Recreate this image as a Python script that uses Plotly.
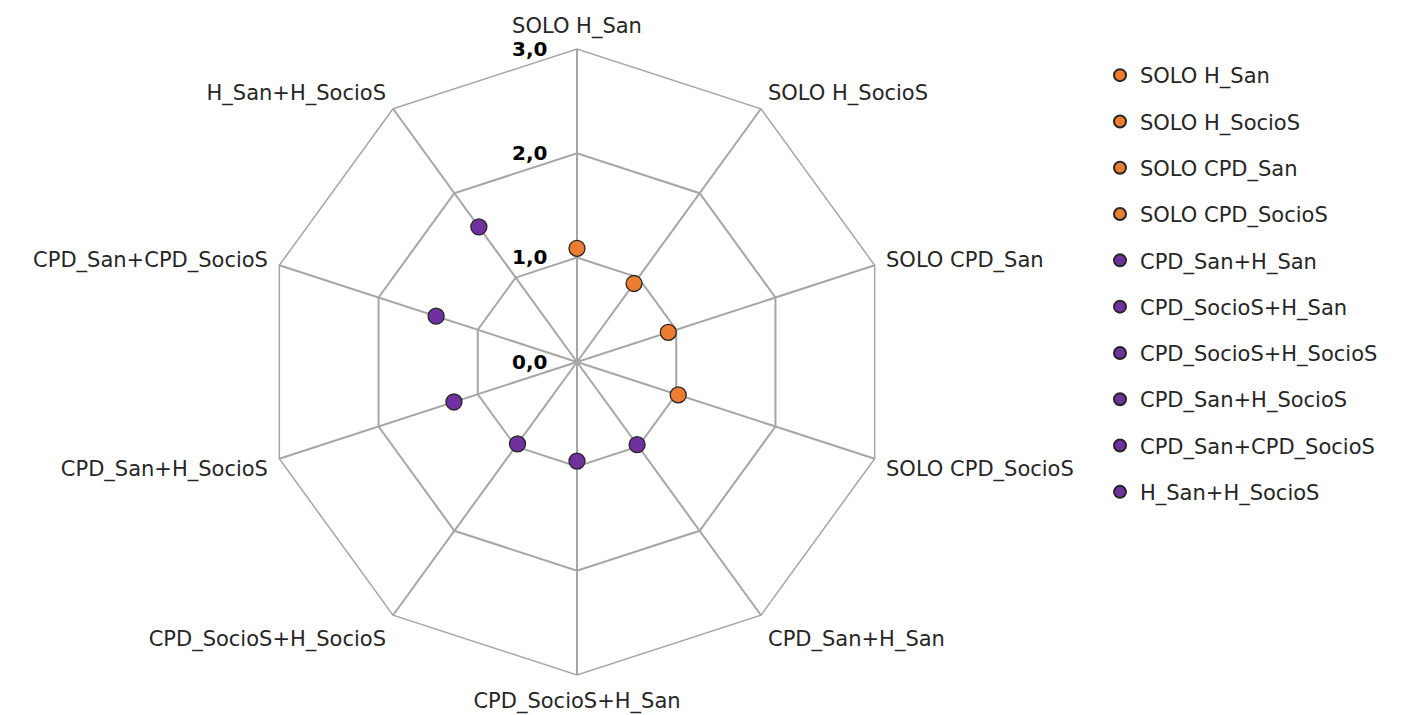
import plotly.graph_objects as go

categories = ["SOLO H_San", "SOLO H_SocioS", "SOLO CPD_San", "SOLO CPD_SocioS",
              "CPD_San+H_San", "CPD_SocioS+H_San", "CPD_SocioS+H_SocioS",
              "CPD_San+H_SocioS", "CPD_San+CPD_SocioS", "H_San+H_SocioS"]
values = [1.09, 0.93, 0.92, 1.02, 0.98, 0.95, 0.97, 1.24, 1.42, 1.60]
groups = ["SOLO", "SOLO", "SOLO", "SOLO", "PAIR", "PAIR", "PAIR", "PAIR", "PAIR", "PAIR"]
radial_ticks = [0, 1, 2, 3]

colors = {"SOLO": "#ED7D31", "PAIR": "#7030A0"}
FONT = "DejaVu Sans"

fig = go.Figure()
for i, (cat, val, g) in enumerate(zip(categories, values, groups)):
    fig.add_trace(go.Scatterpolar(
        r=[val], theta=[cat], mode="markers", name=cat,
        legendgroup=f"g{i}",
        marker=dict(size=16, color=colors[g], line=dict(color="#262626", width=1.3)),
    ))

fig.update_layout(
    width=1412, height=715,
    paper_bgcolor="white", plot_bgcolor="white",
    separators=",.",
    margin=dict(l=0, r=0, t=0, b=0),
    font=dict(family=FONT, size=21, color="#262626"),
    polar=dict(
        domain=dict(x=[256/1412, 882/1412], y=[48/715, 674/715]),
        gridshape="linear",
        bgcolor="white",
        angularaxis=dict(
            categoryarray=categories, categoryorder="array",
            rotation=90, direction="clockwise",
            showline=True, linecolor="#A6A6A6", linewidth=1.5,
            gridcolor="#A6A6A6", gridwidth=1.5,
            ticks="outside", ticklen=7, tickcolor="rgba(0,0,0,0)",
            tickfont=dict(family=FONT, size=21, color="#262626"),
        ),
        radialaxis=dict(
            range=[0, 3], tickvals=radial_ticks, tickformat=".1f",
            angle=90, side="counterclockwise", tickangle=90,
            showline=False, ticks="outside", ticklen=22, tickcolor="rgba(0,0,0,0)",
            gridcolor="#A6A6A6", gridwidth=1.5,
            tickfont=dict(family=FONT, size=20, color="#000000", weight="bold"),
        ),
    ),
    legend=dict(
        x=1092/1412, y=1 - 47/715, xanchor="left", yanchor="top",
        font=dict(family=FONT, size=21, color="#262626"),
        tracegroupgap=16, itemsizing="constant", itemwidth=30,
    ),
)

fig.write_html("out.html")
